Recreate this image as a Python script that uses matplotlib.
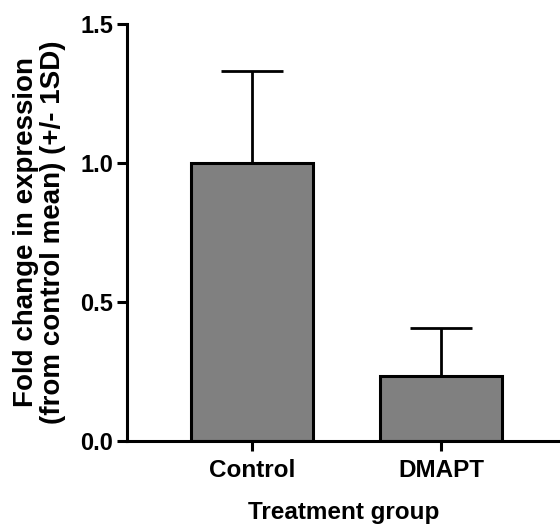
import matplotlib
matplotlib.use('Agg')
import matplotlib.pyplot as plt
import numpy as np

# values
groups = ['Control', 'DMAPT']
fold_change = [1.0, 0.232]
sd = [0.331, 0.173]

plt.rcParams['font.family'] = ['Liberation Sans', 'DejaVu Sans']
plt.rcParams['font.weight'] = 'bold'

fig = plt.figure(figsize=(5.6, 5.28), dpi=100)
ax = fig.add_axes([0.2268, 0.1648, 0.7732, 0.7898])

x = np.arange(len(groups))
ax.bar(x, fold_change, width=0.65, color='#808080', edgecolor='black', linewidth=2.2, zorder=2)
ax.errorbar(x, fold_change, yerr=[np.zeros(len(sd)), sd], fmt='none', ecolor='black',
            elinewidth=2.0, capsize=22, capthick=2.0, zorder=1)

ax.set_xlim(-0.661, 1.63)
ax.set_ylim(0, 1.5)
ax.set_yticks([0, 0.5, 1.0, 1.5])
ax.set_yticklabels(['0.0', '0.5', '1.0', '1.5'])
ax.set_xticks(x)
ax.set_xticklabels(groups)

for s in ['top', 'right']:
    ax.spines[s].set_visible(False)
for s in ['left', 'bottom']:
    ax.spines[s].set_linewidth(2.2)

ax.tick_params(axis='both', width=2.2, length=7)
ax.tick_params(axis='x', pad=6, labelsize=17.5)
ax.tick_params(axis='y', pad=3, labelsize=17)

ax.set_xlabel('Treatment group', fontsize=17.5, fontweight='bold', labelpad=14)
ax.set_ylabel('Fold change in expression\n(from control mean) (+/- 1SD)', fontsize=20,
              fontweight='bold', linespacing=1.05)
ax.yaxis.set_label_coords(-0.14, 0.5)

fig.savefig('out.png', dpi=100)
